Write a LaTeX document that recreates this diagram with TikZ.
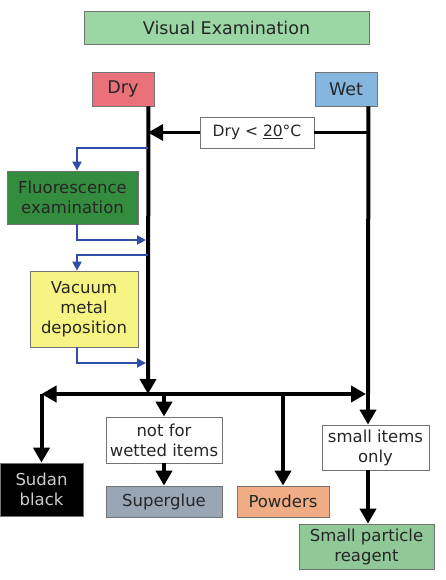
\documentclass[tikz,border=0pt]{standalone}
\usepackage{fontspec}
\setmainfont{DejaVu Sans}
\usetikzlibrary{calc, positioning, arrows.meta}
\definecolor{vegreen}{RGB}{155,214,165}
\definecolor{dryred}{RGB}{234,112,122}
\definecolor{wetblue}{RGB}{132,182,224}
\definecolor{flgreen}{RGB}{52,140,62}
\definecolor{vmdyellow}{RGB}{248,244,132}
\definecolor{sgblue}{RGB}{152,166,182}
\definecolor{pworange}{RGB}{240,172,132}
\definecolor{sprgreen}{RGB}{145,200,152}
\definecolor{sideblue}{RGB}{48,78,165}

\begin{document}
\begin{tikzpicture}[x=1pt, y=-1pt,
    box/.style={draw=black!55, line width=0.8pt, align=center, inner sep=0pt,
      text=black!85, font=\fontsize{16.5}{20}\selectfont},
    big/.style={font=\fontsize{17.5}{21}\selectfont},
    main/.style={line width=4pt, -{Triangle[width=16pt,length=15pt]}},
    side/.style={draw=sideblue, line width=2pt, -{Triangle[width=9pt,length=9pt]}}]
      \fill[white] (0,0) rectangle (446,580);
      \useasboundingbox (0,0) rectangle (446,580);

      \node[box, big, fill=vegreen, minimum width=285, minimum height=33] (ve) at (226.5,27.5) {Visual Examination};
      \node[box, big, fill=dryred, minimum width=62, minimum height=34] (dry) at (123,89) {Dry};
      \node[box, big, fill=wetblue, minimum width=62, minimum height=34] (wet) at (346,89) {Wet};
      \node[box, fill=white, minimum width=114, minimum height=31, font=\fontsize{15.5}{19}\selectfont] (cond) at (257,132.5) {Dry < \underline{20}°C};
      \node[box, fill=flgreen, minimum width=131, minimum height=53] (fl) at (72.5,197.5) {Fluorescence\\examination};
      \node[box, fill=vmdyellow, minimum width=108, minimum height=76] (vmd) at (84,309) {Vacuum\\metal\\deposition};
      \node[box, fill=black, text=black!20, minimum width=83, minimum height=53] (sb) at (41.5,489.5) {Sudan\\black};
      \node[box, fill=white, minimum width=116, minimum height=46] (nfw) at (164,440) {not for\\wetted items};
      \node[box, fill=sgblue, minimum width=116, minimum height=31] (sg) at (164,501.5) {Superglue};
      \node[box, fill=pworange, minimum width=92, minimum height=31] (pw) at (283,501.5) {Powders};
      \node[box, fill=white, minimum width=107, minimum height=45] (si) at (375.5,447.5) {small items\\only};
      \node[box, fill=sprgreen, minimum width=135, minimum height=45] (spr) at (366.5,546.5) {Small particle\\reagent};

      % points on the dry and wet lines
      \coordinate (d) at (148,394);
      \coordinate (w) at (368,394);
      \coordinate (d1) at (148,148);
      \coordinate (d2) at (146,240);
      \coordinate (d3) at (148,255);
      \coordinate (d4) at (146,363);

      \draw[main] ($(dry.south east)+(-6,0)$) -- (d);
      \draw[line width=4pt] ($(wet.south east)+(-9,0)$) -- (w);
      \draw[line width=3pt] (cond.east -| w) -- (cond.east);
      \draw[main, line width=3pt] (cond.west) -- (cond.west -| d);

      \draw[side] (d1) -| ($(fl.north)+(4.5,0)$);
      \draw[side] ($(fl.south)+(4.5,0)$) |- (d2);
      \draw[side] (d3) -| ($(vmd.north)+(-7,0)$);
      \draw[side] ($(vmd.south)+(-7,0)$) |- (d4);

      \draw[main, {Triangle[width=16pt,length=15pt]}-{Triangle[width=16pt,length=15pt]}] (sb.north |- d) -- ($(w)+(-2,0)$);
      \draw[main] (sb.north |- d) -- (sb.north);
      \draw[main] (nfw.north |- d) -- (nfw.north);
      \draw[main] (nfw.south) -- (sg.north);
      \draw[main] (pw.north |- d) -- (pw.north);
      \draw[main] (w) -- (si.north -| w);
      \draw[main] (si.south -| w) -- (spr.north -| w);
    \end{tikzpicture}
\end{document}
